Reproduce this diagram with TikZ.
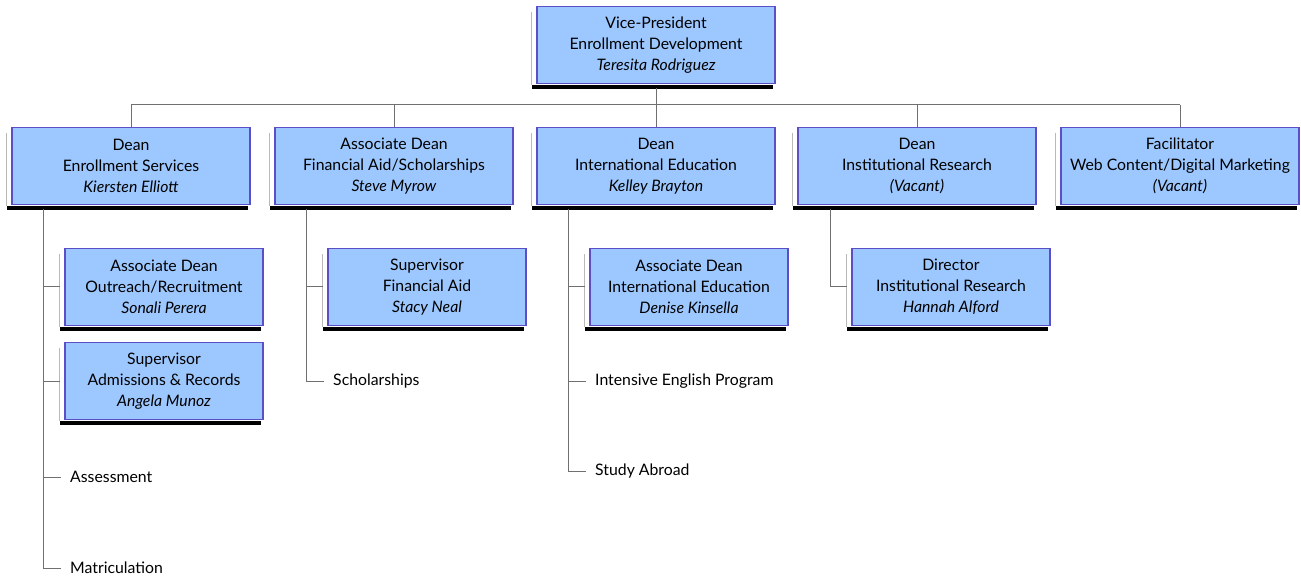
\documentclass[tikz,border=0pt]{standalone}
\usepackage{fontspec}
\setmainfont{Lato}
\definecolor{fillcol}{HTML}{9DC8FF}
\definecolor{bordercol}{HTML}{5A4FC8}
\definecolor{linecol}{HTML}{707070}
\newcommand{\boxfont}{\fontsize{15.8}{21}\selectfont}
\begin{document}
\begin{tikzpicture}[x=1pt,y=-1pt,
  box/.style={draw=bordercol, line width=1.3pt, fill=fillcol, minimum width=238pt,
    minimum height=77pt, align=center, inner sep=0pt, font=\boxfont},
  subbox/.style={box, minimum width=198pt},
  lbl/.style={anchor=west, inner sep=0pt, font=\boxfont},
  conn/.style={draw=linecol, line width=1pt}]
\useasboundingbox (0,0) rectangle (1301,577);
% top
\node[box] (vp) at (656,45) {Vice-President\\Enrollment Development\\\textit{Teresita Rodriguez}};
% row 1
\node[box] (es) at (131,166) {Dean\\Enrollment Services\\\textit{Kiersten Elliott}};
\node[box] (fa) at (394,166) {Associate Dean\\Financial Aid/Scholarships\\\textit{Steve Myrow}};
\node[box] (ie) at (656,166) {Dean\\International Education\\\textit{Kelley Brayton}};
\node[box] (ir) at (917,166) {Dean\\Institutional Research\\\textit{(Vacant)}};
\node[box] (fc) at (1180,166) {Facilitator\\Web Content/Digital Marketing\\\textit{(Vacant)}};
% sub boxes
\node[subbox] (so) at (164,287) {Associate Dean\\Outreach/Recruitment\\\textit{Sonali Perera}};
\node[subbox] (an) at (164,381) {Supervisor\\Admissions \& Records\\\textit{Angela Munoz}};
\node[subbox] (st) at (427,287) {Supervisor\\Financial Aid\\\textit{Stacy Neal}};
\node[subbox] (de) at (689,287) {Associate Dean\\International Education\\\textit{Denise Kinsella}};
\node[subbox] (ha) at (951,287) {Director\\Institutional Research\\\textit{Hannah Alford}};
% shadows
\foreach \n in {vp,es,fa,ie,ir,fc,so,an,st,de,ha}{
  \draw[gray!55, line width=0.9pt] ([xshift=-4.5pt,yshift=-6pt]\n.north west) -- ([xshift=-4.5pt,yshift=-1pt]\n.south west);
  \fill[black] ([xshift=-4pt,yshift=-1pt]\n.south west) rectangle ([xshift=-3pt,yshift=-4.5pt]\n.south east);
}
% labels
\node[lbl] (as) at (70,477) {Assessment};
\node[lbl] (ma) at (70,568) {Matriculation};
\node[lbl] (sc) at (333,381) {Scholarships};
\node[lbl] (iep) at (595,381) {Intensive English Program};
\node[lbl] (sa) at (595,471) {Study Abroad};
% top bus
\coordinate (busL) at (131,105);
\coordinate (busR) at (1180,105);
\draw[conn] ([yshift=-4pt]vp.south) -- (vp.south |- busL);
\draw[conn] (busL) -- (busR);
\foreach \n in {es,fa,ie,ir,fc}{ \draw[conn] (\n.north |- busL) -- (\n.north); }
% trunks
\coordinate (esT) at (43,209);
\coordinate (faT) at (306,209);
\coordinate (ieT) at (568,209);
\coordinate (irT) at (830,209);
\draw[conn] (esT) -- (esT |- ma.west) -- ([xshift=-9pt]ma.west);
\draw[conn] (esT |- so.west) -- ([xshift=-4pt]so.west);
\draw[conn] (esT |- an.west) -- ([xshift=-4pt]an.west);
\draw[conn] (esT |- as.west) -- ([xshift=-9pt]as.west);
\draw[conn] (faT) -- (faT |- sc.west) -- ([xshift=-9pt]sc.west);
\draw[conn] (faT |- st.west) -- ([xshift=-4pt]st.west);
\draw[conn] (ieT) -- (ieT |- sa.west) -- ([xshift=-9pt]sa.west);
\draw[conn] (ieT |- de.west) -- ([xshift=-4pt]de.west);
\draw[conn] (ieT |- iep.west) -- ([xshift=-9pt]iep.west);
\draw[conn] (irT) -- (irT |- ha.west) -- ([xshift=-4pt]ha.west);
\end{tikzpicture}
\end{document}
